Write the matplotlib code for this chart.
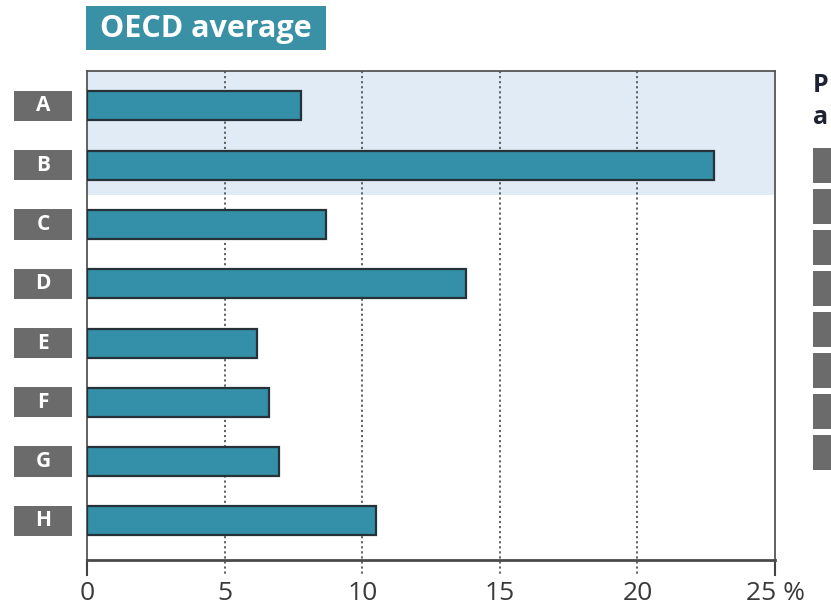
import matplotlib
matplotlib.use("Agg")
import matplotlib.pyplot as plt
from matplotlib.patches import Rectangle

categories = ["A", "B", "C", "D", "E", "F", "G", "H"]
values = [7.78, 22.78, 8.68, 13.77, 6.18, 6.61, 6.98, 10.5]
xticks = [0, 5, 10, 15, 20, 25]
xtick_labels = ["0", "5", "10", "15", "20", "25 %"]
title = "OECD average"
side_title = ["P", "a"]

W, H = 831, 614
fig = plt.figure(figsize=(W / 100, H / 100), dpi=100)
ax = fig.add_axes([87 / W, 1 - 560 / H, (775 - 87) / W, (560 - 71) / H])

teal = "#3390a8"
edge = "#263238"
grey = "#6b6b6b"
font = ["Open Sans", "DejaVu Sans"]

ypos = list(range(len(categories)))
ax.set_xlim(0, 25)
ax.set_ylim(7.66, -0.59)

# shaded band behind A and B
ax.axhspan(-0.59, 1.5, color="#e1ebf5", zorder=0, lw=0)

# dotted gridlines
for x in xticks[1:-1]:
    ax.plot([x, x], [-0.59, 7.66 + 0.26], color="#555555",
            ls=(0, (1.2, 1.6)), lw=1.3, clip_on=False, zorder=1)

ax.barh(ypos, values, height=0.49, color=teal, edgecolor=edge, linewidth=1.6, zorder=3)

for s in ["left", "right", "top"]:
    ax.spines[s].set_color("#555555")
    ax.spines[s].set_linewidth(1.3)
ax.spines["bottom"].set_color("#4a4a4a")
ax.spines["bottom"].set_linewidth(2.0)

ax.set_yticks([])
ax.set_xticks(xticks)
ax.set_xticklabels(xtick_labels, fontsize=19, color="#3a3a3a", family=font)
ax.tick_params(axis="x", length=0, pad=15)

# solid end ticks at 0 and 25
for x in [0, 25]:
    ax.plot([x, x], [7.66, 7.66 + 0.26], color="#444444", lw=1.5, clip_on=False, zorder=2)

# category label boxes
for y, c in zip(ypos, categories):
    ax.add_patch(Rectangle((-2.65, y - 0.255), 2.1, 0.51, facecolor=grey,
                           edgecolor="none", clip_on=False, zorder=2))
    ax.text(-1.6, y, c, ha="center", va="center", color="white", fontsize=15,
            fontweight="bold", family=font, clip_on=False)

# title box
fig.patches.append(Rectangle((86 / W, 1 - 50 / H), 240 / W, 44 / H,
                             transform=fig.transFigure, facecolor="#3a91a6",
                             edgecolor="none"))
fig.text(206 / W, 1 - 29 / H, title, ha="center", va="center", color="white",
         fontsize=22, fontweight="bold", family=font)

# cut-off right panel
fig.text(813 / W, 1 - 86 / H, side_title[0], ha="left", va="center", color="#1f2233",
         fontsize=18, fontweight="bold", family=font)
fig.text(813 / W, 1 - 117 / H, side_title[1], ha="left", va="center", color="#1f2233",
         fontsize=18, fontweight="bold", family=font)
for i in range(8):
    top = 148 + i * 41
    fig.patches.append(Rectangle((813 / W, 1 - (top + 35) / H), 20 / W, 35 / H,
                                 transform=fig.transFigure, facecolor=grey,
                                 edgecolor="none"))

fig.savefig("out.png", dpi=100)
